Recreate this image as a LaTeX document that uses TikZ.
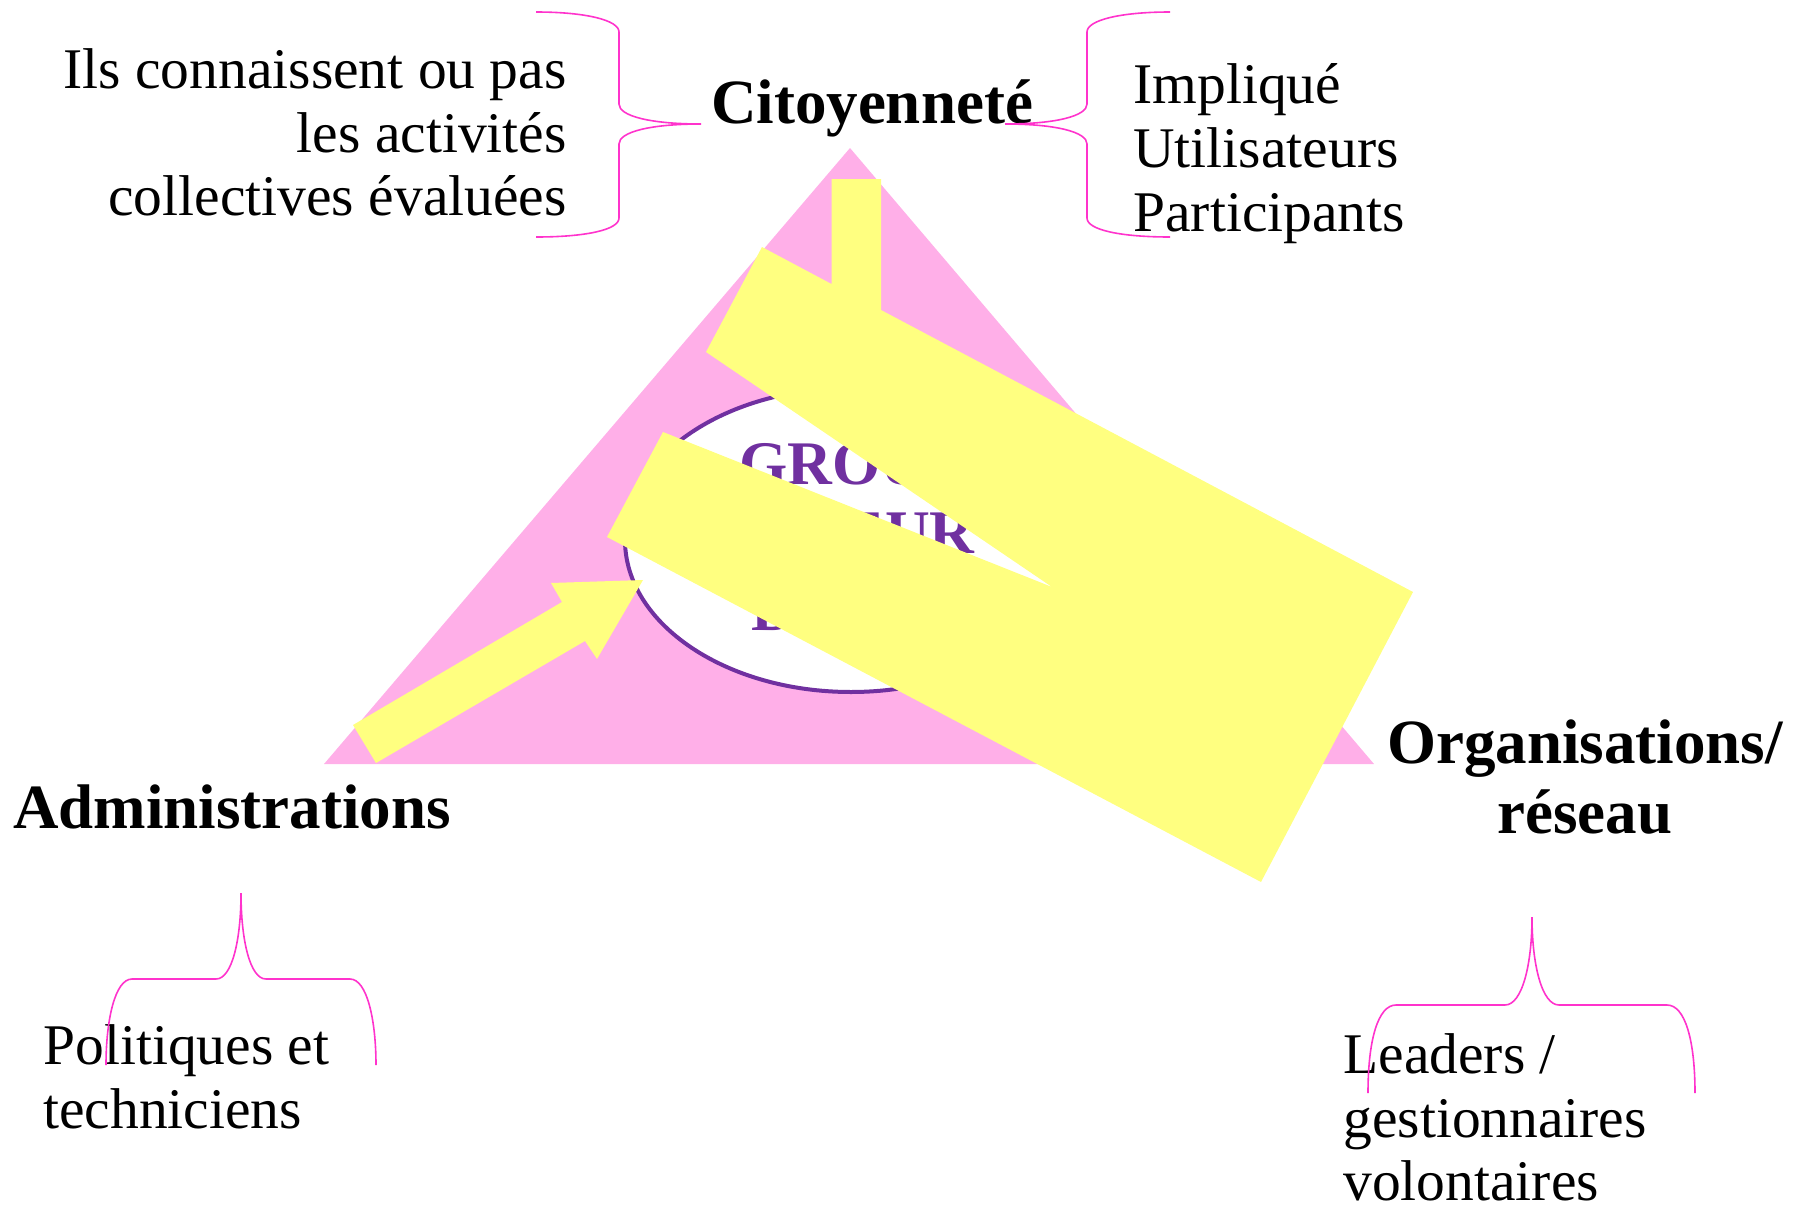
\documentclass[tikz,border=0pt]{standalone}
\usepackage{fontspec}
\setmainfont{Liberation Serif}
\usetikzlibrary{shapes.geometric}
\definecolor{tripink}{RGB}{255,175,232}
\definecolor{yel}{RGB}{255,255,128}
\definecolor{bracecol}{RGB}{255,51,204}
\definecolor{purp}{RGB}{112,48,160}
\tikzset{
  txt/.style={font=\fontsize{28.75}{32}\selectfont, inner sep=0pt},
  btxt/.style={font=\fontsize{31.5}{35}\selectfont\bfseries, inner sep=0pt},
  gtxt/.style={font=\fontsize{31}{35}\selectfont\bfseries, text=purp, inner sep=0pt},
  bracel/.style={draw=bracecol, line width=0.8pt},
  yshape/.style={fill=yel},
}
\begin{document}
\begin{tikzpicture}[x=0.5pt,y=-0.5pt]
\useasboundingbox (0,0) rectangle (1800,1205);
% triangle
\fill[tripink] (850,148) -- (1374,764) -- (324,764) -- cycle;
% ellipse
\node[ellipse, draw=purp, line width=2pt, fill=white, inner sep=0pt,
      minimum width=226pt, minimum height=152pt] (grp) at (851,540) {};
\node[gtxt, anchor=base west] (g1) at (739,484) {GROUPE};
\node[gtxt, anchor=base east] (g2) at (975,553) {MOTEUR};
\node[gtxt, anchor=base west] (g3) at (751,630) {DE};
% big yellow shape
\fill[yshape] (762,247) -- (831.5,284) -- (831.5,179) -- (881,179) -- (881,310)
  -- (1413,592) -- (1261,882) -- (607,537) -- (663,432) -- (1052,587)
  -- (706,352) -- cycle;
% small yellow arrow
\fill[yshape] (353,725) -- (562,602) -- (551,583) -- (643,580) -- (597,659)
  -- (585,641) -- (376,763) -- cycle;
% texts
\node[btxt, anchor=base] (cit) at (872,123) {Citoyenneté};
\node[txt, anchor=base east] (ils1) at (567,88) {Ils connaissent ou pas};
\node[txt, anchor=base east] (ils2) at (567,152) {les activités};
\node[txt, anchor=base east] (ils3) at (567,215) {collectives évaluées};
\node[txt, anchor=base west] (imp1) at (1133,103) {Impliqué};
\node[txt, anchor=base west] (imp2) at (1133,167) {Utilisateurs};
\node[txt, anchor=base west] (imp3) at (1133,231) {Participants};
\node[btxt, anchor=base west] (adm) at (13,828) {Administrations};
\node[btxt, anchor=base] (org1) at (1585,763) {Organisations/};
\node[btxt, anchor=base] (org2) at (1585,833) {réseau};
\node[txt, anchor=base west] (pol1) at (43,1064) {Politiques et};
\node[txt, anchor=base west] (pol2) at (43,1128) {techniciens};
\node[txt, anchor=base west] (lea1) at (1343,1073) {Leaders /};
\node[txt, anchor=base west] (lea2) at (1343,1137) {gestionnaires};
\node[txt, anchor=base west] (lea3) at (1343,1200) {volontaires};
% braces
\draw[bracel] (536,12) .. controls (585,12) and (619,20) .. (619,32) -- (619,104)
  .. controls (619,116) and (650,124) .. (701,124)
  .. controls (650,124) and (619,132) .. (619,144) -- (619,218)
  .. controls (619,230) and (585,237) .. (536,237);
\draw[bracel] (1170,12) .. controls (1121,12) and (1087,20) .. (1087,32) -- (1087,104)
  .. controls (1087,116) and (1056,124) .. (1005,124)
  .. controls (1056,124) and (1087,132) .. (1087,144) -- (1087,218)
  .. controls (1087,230) and (1121,237) .. (1170,237);
\draw[bracel] (106,1065) .. controls (106,1020) and (115,979) .. (132,979) -- (216,979)
  .. controls (232,979) and (241,940) .. (241,893)
  .. controls (241,940) and (250,979) .. (266,979) -- (350,979)
  .. controls (367,979) and (376,1020) .. (376,1065);
\draw[bracel] (1368,1093) .. controls (1368,1040) and (1378,1005) .. (1396,1005) -- (1505,1005)
  .. controls (1522,1005) and (1532,965) .. (1532,917)
  .. controls (1532,965) and (1542,1005) .. (1559,1005) -- (1667,1005)
  .. controls (1685,1005) and (1695,1040) .. (1695,1093);
\end{tikzpicture}
\end{document}
